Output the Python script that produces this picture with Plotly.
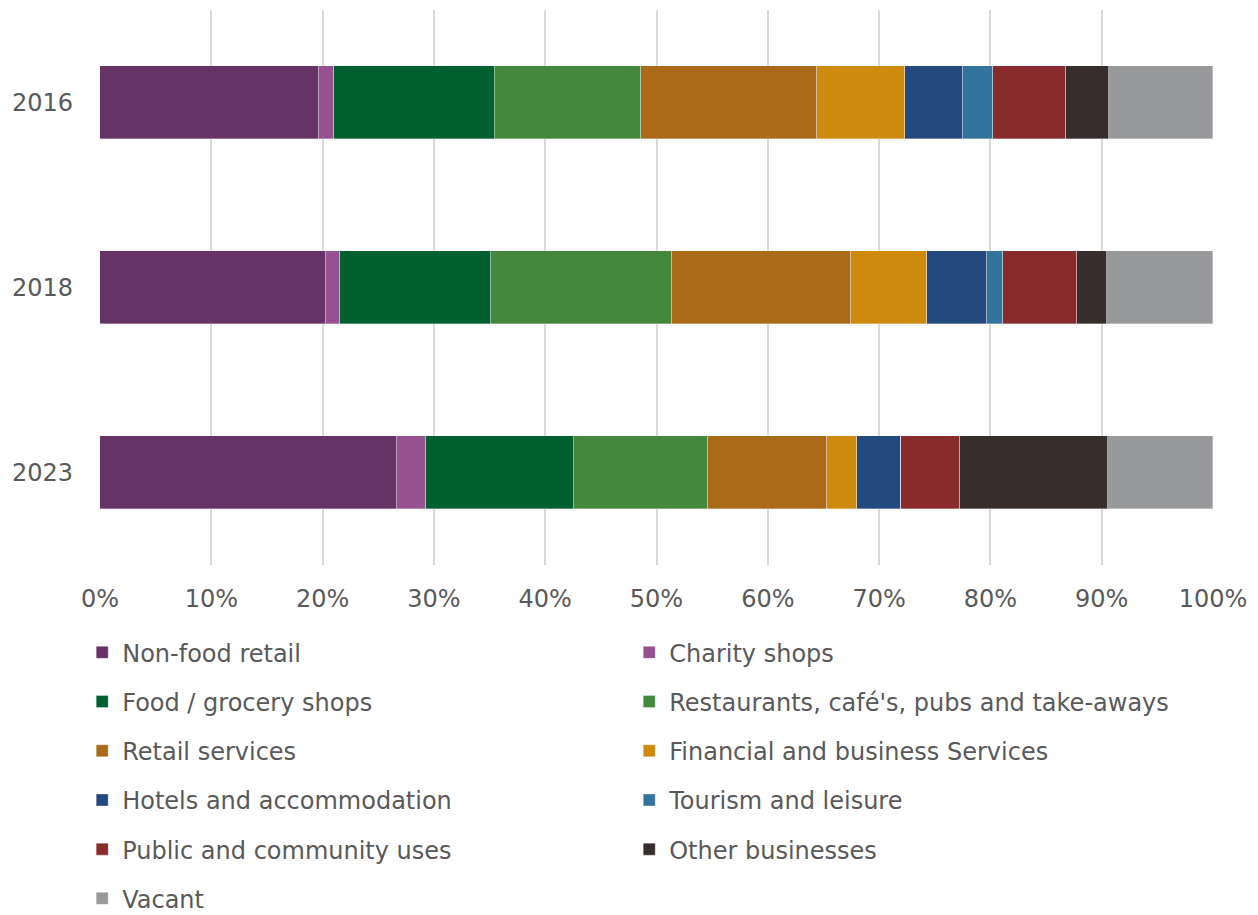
import plotly.graph_objects as go

years = ["2016", "2018", "2023"]

categories = [
    "Non-food retail",
    "Charity shops",
    "Food / grocery shops",
    "Restaurants, café's, pubs and take-aways",
    "Retail services",
    "Financial and business Services",
    "Hotels and accommodation",
    "Tourism and leisure",
    "Public and community uses",
    "Other businesses",
    "Vacant",
]

# Share of units (%) per category, for 2016, 2018, 2023
non_food_retail = [19.7, 20.3, 26.7]
charity_shops = [1.3, 1.3, 2.6]
food_grocery = [14.5, 13.5, 13.3]
restaurants = [13.1, 16.3, 12.0]
retail_services = [15.8, 16.1, 10.7]
financial_business = [7.9, 6.8, 2.7]
hotels = [5.2, 5.4, 4.0]
tourism_leisure = [2.7, 1.4, 0.0]
public_community = [6.6, 6.7, 5.3]
other_businesses = [3.9, 2.7, 13.3]
vacant = [9.3, 9.5, 9.4]

series = [
    non_food_retail, charity_shops, food_grocery, restaurants, retail_services,
    financial_business, hotels, tourism_leisure, public_community,
    other_businesses, vacant,
]

colors = [
    "#663366", "#955190", "#00602F", "#44883E", "#AA6A17", "#CE8A0C",
    "#24497F", "#33749E", "#892A2C", "#372D2D", "#98999B",
]

FONT = "DejaVu Sans"
TEXT = "#595959"

fig = go.Figure()
for i, (name, vals, col) in enumerate(zip(categories, series, colors)):
    fig.add_trace(go.Bar(
        y=years,
        x=[v / 100 for v in vals],
        name=name,
        orientation="h",
        marker=dict(color=col, line=dict(color="rgba(255,255,255,0.55)", width=0.6)),
        legend="legend" if i % 2 == 0 else "legend2",
        legendgroup=name,
        width=0.395,
    ))

legend_common = dict(
    orientation="v",
    yanchor="top",
    xanchor="left",
    font=dict(family=FONT, size=24, color=TEXT),
    itemwidth=30,
    tracegroupgap=15,
    bgcolor="rgba(0,0,0,0)",
)

fig.update_layout(
    barmode="stack",
    width=1258,
    height=915,
    margin=dict(l=100, r=45, t=10, b=350, autoexpand=False),
    paper_bgcolor="white",
    plot_bgcolor="white",
    font=dict(family=FONT, size=24, color=TEXT),
    bargap=0,
    xaxis=dict(
        range=[0, 1],
        tickformat=".0%",
        dtick=0.1,
        showgrid=True,
        gridcolor="#D9D9D9",
        gridwidth=2,
        zeroline=False,
        showline=False,
        ticks="",
        ticklabelstandoff=17,
        tickfont=dict(family=FONT, size=24, color=TEXT),
    ),
    yaxis=dict(
        autorange="reversed",
        showgrid=False,
        zeroline=False,
        showline=False,
        ticks="",
        ticklabelstandoff=26,
        tickfont=dict(family=FONT, size=24, color=TEXT),
    ),
    legend=dict(x=-0.016, y=-0.1176, **legend_common),
    legend2=dict(x=0.4755, y=-0.1176, **legend_common),
)

fig.write_html("out.html")
